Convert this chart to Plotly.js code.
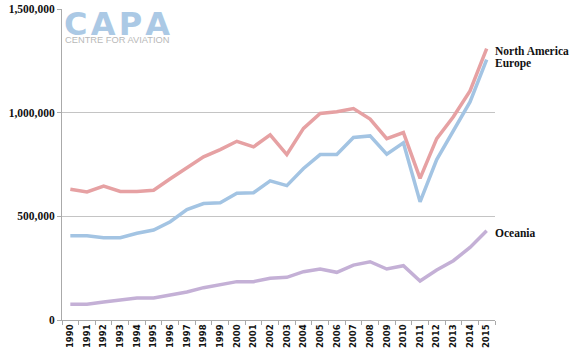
<!DOCTYPE html>
<html><head><meta charset="utf-8">
<script src="https://cdn.plot.ly/plotly-3.0.1.min.js"></script>
<style>html,body{margin:0;padding:0;background:#fff}#chart{width:574px;height:356px}</style>
</head><body><div id="chart"></div>
<script>
const years = ["1990","1991","1992","1993","1994","1995","1996","1997","1998","1999","2000","2001","2002","2003","2004","2005","2006","2007","2008","2009","2010","2011","2012","2013","2014","2015"];
const northAmerica = [631000,618000,646000,620000,620000,626000,681000,732000,787000,822000,862000,835000,893000,798000,924000,996000,1004000,1020000,969000,875000,904000,683000,875000,980000,1105000,1309000];
const europe = [406000,406000,397000,397000,418000,434000,474000,533000,562000,565000,611000,614000,671000,648000,731000,798000,798000,880000,888000,800000,855000,570000,774000,916000,1052000,1256000];
const oceania = [76000,76000,87000,95000,106000,106000,120000,135000,156000,170000,185000,185000,201000,206000,233000,246000,230000,265000,281000,246000,262000,188000,241000,286000,350000,430000];
const seriesNames = ["North America","Europe","Oceania"];
const colors = ["#e6a1a3","#a3c4e3","#c4b0d6"];
const yTicks = [0,500000,1000000,1500000];
const yTickText = ["0","500,000","1,000,000","1,500,000"];

const data = [northAmerica, europe, oceania].map((v,i)=>({
  x: years, y: v, type:'scatter', mode:'lines', name: seriesNames[i],
  line:{color:colors[i], width:3.5}, hoverinfo:'skip'
}));

const last = years.length - 1;
const labelFont = {family:'"Liberation Serif", "DejaVu Serif", serif', size:11.5, color:'#111'};
const annotations = [
  {x:last, y:northAmerica[last], text:'<b>North America</b>', showarrow:false, xanchor:'left', xshift:6, yshift:-2, font:labelFont},
  {x:last, y:europe[last], text:'<b>Europe</b>', showarrow:false, xanchor:'left', xshift:6, yshift:-4, font:labelFont},
  {x:last, y:oceania[last], text:'<b>Oceania</b>', showarrow:false, xanchor:'left', xshift:6, yshift:-2, font:labelFont},
  {xref:'paper', yref:'paper', x:0.002, y:0.952, xanchor:'left', yanchor:'middle', showarrow:false, borderpad:0,
   text:'<b>C\u200AA\u200AP\u200AA</b>', font:{family:'"DejaVu Sans", "Liberation Sans", sans-serif', size:32, color:'#abc9e5'}},
  {xref:'paper', yref:'paper', x:0.005, y:0.9, xanchor:'left', yanchor:'middle', showarrow:false, borderpad:0,
   text:'CENTRE FOR AVIATION', font:{family:'"Liberation Sans", Arial, sans-serif', size:9.3, color:'#b8b8b8'}}
];

const layout = {
  width:574, height:356,
  margin:{l:62, r:79, t:9, b:36},
  paper_bgcolor:'#fff', plot_bgcolor:'#fff',
  showlegend:false,
  xaxis:{type:'category', range:[-0.5, last+0.5], tickangle:-90, ticks:'outside', tickson:'boundaries', ticklen:4, tickcolor:'#aaa',
    showgrid:false, showline:true, linecolor:'#aaa', linewidth:1,
    tickfont:{family:'"DejaVu Sans", Verdana, sans-serif', size:8.5, color:'#111', weight:'bold'}, automargin:false},
  yaxis:{range:[0,1500000], tickvals:yTicks, ticktext:yTickText, ticks:'outside', ticklen:4, tickcolor:'#aaa',
    showgrid:true, gridcolor:'#c4c4c4', gridwidth:1.2, showline:true, linecolor:'#aaa', linewidth:1, zeroline:false,
    tickfont:{family:'"Liberation Serif", "DejaVu Serif", serif', size:11.5, color:'#111', weight:'bold'}, automargin:false},
  annotations: annotations
};
Plotly.newPlot('chart', data, layout, {staticPlot:true, displayModeBar:false});
</script></body></html>
